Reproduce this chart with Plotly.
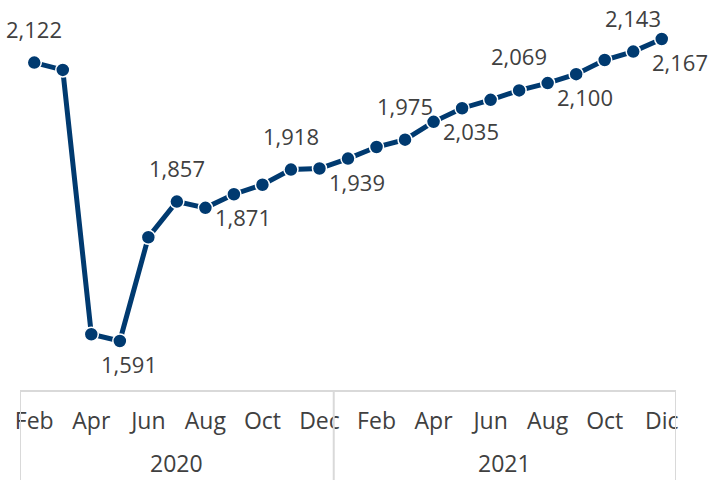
import plotly.graph_objects as go

months_2020 = ["Feb", "Mar", "Apr", "May", "Jun", "Jul", "Aug", "Sep", "Oct", "Nov", "Dec"]
months_2021 = ["Jan", "Feb", "Mar", "Apr", "May", "Jun", "Jul", "Aug", "Sep", "Oct", "Nov", "Dic"]
years = ["2020", "2021"]
values_2020 = [2122, 2108, 1604, 1591, 1789, 1857, 1845, 1871, 1889, 1918, 1920]
values_2021 = [1939, 1961, 1975, 2009, 2035, 2051, 2069, 2083, 2100, 2127, 2143, 2167]
# which points carry a data label, and where (top / bottom)
label_pos_2020 = ["top", None, None, "bottom", None, "top", None, "bottom", None, "top", None]
label_pos_2021 = ["bottom", None, "top", None, "bottom", None, "top", None, "bottom", None, "top", "bottom"]

months = months_2020 + months_2021
values = values_2020 + values_2021
label_pos = label_pos_2020 + label_pos_2021
xs = list(range(len(values)))

FONT = "Open Sans"
TXT = "#404040"
NAVY = "#003A70"
GRID = "#d9d9d9"
FS = 22
FS_AX = 23

fig = go.Figure()
fig.add_trace(go.Scatter(
    x=xs, y=values, mode="lines+markers",
    line=dict(color=NAVY, width=5),
    marker=dict(color=NAVY, size=14, line=dict(color="white", width=1.5)),
    cliponaxis=False, hoverinfo="skip",
))

last = len(values) - 1
for i, (v, p) in enumerate(zip(values, label_pos)):
    if not p:
        continue
    if p == "top":
        ys, xsh = 34, 0
    else:
        ys, xsh = -23, 9
    if i == last:
        xsh = 18
    fig.add_annotation(x=i, y=v, xref="x", yref="y", text=f"{v:,}", showarrow=False,
                       xanchor="center", yanchor="middle", yshift=ys, xshift=xsh,
                       font=dict(family=FONT, size=FS, color=TXT))

tickvals = xs[::2]
ticktext = [months[i] for i in tickvals]

fig.update_layout(
    width=709, height=480,
    margin=dict(l=20, r=33, t=0, b=90, autoexpand=False),
    paper_bgcolor="white", plot_bgcolor="white",
    showlegend=False,
    xaxis=dict(
        range=[-0.5, len(values) - 0.5],
        tickvals=tickvals, ticktext=ticktext,
        tickfont=dict(family=FONT, size=FS_AX, color=TXT),
        ticks="outside", ticklen=9, tickcolor="rgba(0,0,0,0)",
        showgrid=False, zeroline=False, automargin=False,
        showline=True, linecolor=GRID, linewidth=2,
    ),
    yaxis=dict(range=[1497.6, 2241.4], visible=False, automargin=False),
)

n20 = len(values_2020)
bounds = [-0.5, n20 - 0.5, len(values) - 0.5]
for b in bounds:
    fig.add_shape(type="line", xref="x", yref="paper", x0=b, x1=b, y0=0, y1=-0.25,
                  line=dict(color=GRID, width=2))
for i, yr in enumerate(years):
    fig.add_annotation(x=(bounds[i] + bounds[i + 1]) / 2, y=0, xref="x", yref="paper",
                       text=yr, showarrow=False, yanchor="middle", yshift=-73,
                       font=dict(family=FONT, size=FS_AX, color=TXT))

fig.write_html("out.html", config={"displayModeBar": False},
               post_script="document.body.style.margin='0';document.body.style.overflow='hidden';")
